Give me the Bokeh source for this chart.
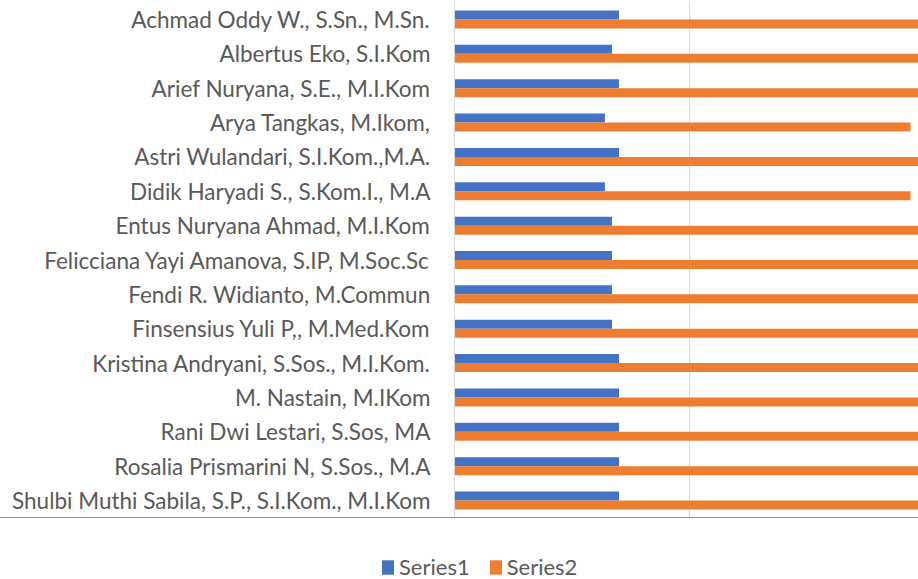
from bokeh.plotting import figure
from bokeh.layouts import column
from bokeh.models import Range1d, FixedTicker, Legend, LegendItem, ColumnDataSource
from bokeh.embed import file_html
from bokeh.resources import INLINE

categories = [
    "Achmad Oddy W., S.Sn., M.Sn.",
    "Albertus Eko, S.I.Kom",
    "Arief Nuryana, S.E., M.I.Kom",
    "Arya Tangkas, M.Ikom,",
    "Astri Wulandari, S.I.Kom.,M.A.",
    "Didik Haryadi S., S.Kom.I., M.A",
    "Entus Nuryana Ahmad, M.I.Kom",
    "Felicciana Yayi Amanova, S.IP, M.Soc.Sc",
    "Fendi R. Widianto, M.Commun",
    "Finsensius Yuli P,, M.Med.Kom",
    "Kristina Andryani, S.Sos., M.I.Kom.",
    "M. Nastain, M.IKom",
    "Rani Dwi Lestari, S.Sos, MA",
    "Rosalia Prismarini N, S.Sos., M.A",
    "Shulbi Muthi Sabila, S.P., S.I.Kom., M.I.Kom",
]
series1 = [3.5, 3.35, 3.5, 3.2, 3.5, 3.2, 3.35, 3.35, 3.35, 3.35, 3.5, 3.5, 3.5, 3.5, 3.5]
series2 = [10.0, 10.0, 10.0, 9.7, 10.0, 9.7, 10.0, 10.0, 10.0, 10.0, 10.0, 10.0, 10.0, 10.0, 10.0]
series_names = ["Series1", "Series2"]
x_ticks = [0, 5]

BLUE = "#4472C4"
ORANGE = "#ED7D31"
FONT = "Lato"
TEXT = "#595959"

idx = list(range(len(categories)))
bar_h = 0.262
src1 = ColumnDataSource(dict(y=[i - bar_h / 2 for i in idx], right=series1))
src2 = ColumnDataSource(dict(y=[i + bar_h / 2 for i in idx], right=series2))

p = figure(
    width=918, height=517,
    x_range=Range1d(0, 9.87),
    y_range=Range1d(14.494, -0.553),
    output_backend="svg", toolbar_location=None,
    min_border_left=454, min_border_right=0, min_border_top=0, min_border_bottom=0,
)
p.frame_align = False
p.outline_line_color = None
p.border_fill_color = "white"

p.hbar(y="y", right="right", left=0, height=bar_h, source=src1, fill_color=BLUE, line_color=None)
p.hbar(y="y", right="right", left=0, height=bar_h, source=src2, fill_color=ORANGE, line_color=None)

p.xaxis.visible = False
p.xgrid.ticker = FixedTicker(ticks=x_ticks)
p.xgrid.grid_line_color = "#d9d9d9"
p.ygrid.grid_line_color = None

yaxis = p.yaxis[0]
yaxis.ticker = FixedTicker(ticks=idx)
yaxis.major_label_overrides = {i: c for i, c in zip(idx, categories)}
yaxis.major_tick_out = 0
yaxis.major_tick_in = 0
yaxis.minor_tick_out = 0
yaxis.minor_tick_in = 0
yaxis.axis_line_color = "#d9d9d9"
yaxis.major_label_standoff = 24
yaxis.major_label_text_font = FONT
yaxis.major_label_text_font_size = "22.5px"
yaxis.major_label_text_color = TEXT

# legend strip below the chart (its frame spans the full width; the
# series bars are drawn far outside its y range so only the legend shows)
lg = figure(
    width=918, height=62,
    x_range=Range1d(0, 1), y_range=Range1d(-100, -99),
    output_backend="svg", toolbar_location=None,
    min_border_left=0, min_border_right=0, min_border_top=0, min_border_bottom=0,
)
lg.frame_align = False
lg.outline_line_color = None
lg.axis.visible = False
lg.grid.visible = False
l1 = lg.hbar(y="y", right="right", left=0, height=bar_h, source=src1, fill_color=BLUE, line_color=None)
l2 = lg.hbar(y="y", right="right", left=0, height=bar_h, source=src2, fill_color=ORANGE, line_color=None)
legend = Legend(
    items=[LegendItem(label=series_names[0], renderers=[l1]),
           LegendItem(label=series_names[1], renderers=[l2])],
    orientation="horizontal",
    location=(380, -1),
    glyph_width=15, glyph_height=18,
    label_standoff=4, spacing=18,
    padding=0, margin=0,
    border_line_color=None, background_fill_alpha=0,
    label_text_font=FONT, label_text_font_size="22px", label_text_color=TEXT,
)
lg.add_layout(legend, "center")

open("out.html", "w").write(file_html(column(p, lg, spacing=0), INLINE))
